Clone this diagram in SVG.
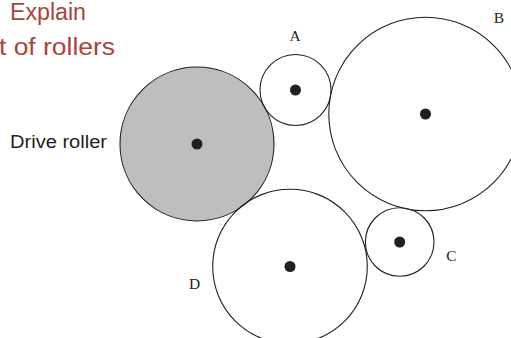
<svg xmlns="http://www.w3.org/2000/svg" width="511" height="338" viewBox="0 0 511 338">
<style>
.roller{fill:none;stroke:#231f20;stroke-width:1.1}
.drive{fill:#bcbec0;stroke:#231f20;stroke-width:1.1}
.axle{fill:#231f20}
.lbl{font-family:"Liberation Serif","Times New Roman",serif;font-size:15.5px;fill:#231f20;text-anchor:middle}
.title{font-family:"Liberation Sans",Arial,sans-serif;font-size:23px;fill:#a8443c}
.side{font-family:"Liberation Sans",Arial,sans-serif;font-size:17.5px;fill:#231f20}
</style>
<rect width="511" height="338" fill="#ffffff"/>
<g id="heading">
<text class="title" x="10" y="20" textLength="76" lengthAdjust="spacingAndGlyphs">Explain</text>
<text class="title" x="-1" y="55" textLength="116" lengthAdjust="spacingAndGlyphs">t of rollers</text>
</g>
<g id="drive-roller">
<circle class="drive" cx="197" cy="144" r="77"/>
<circle class="axle" cx="197" cy="144" r="5.5"/>
<text class="side" x="10" y="147.5" textLength="97" lengthAdjust="spacingAndGlyphs">Drive roller</text>
</g>
<g id="roller-A">
<circle class="roller" cx="295.5" cy="90" r="35.5"/>
<circle class="axle" cx="295.5" cy="90" r="5.5"/>
<text class="lbl" x="295" y="40.5">A</text>
</g>
<g id="roller-B">
<circle class="roller" cx="425.5" cy="114" r="96.7"/>
<circle class="axle" cx="425.5" cy="114" r="5.5"/>
<text class="lbl" x="499" y="22.5">B</text>
</g>
<g id="roller-C">
<circle class="roller" cx="399.7" cy="242" r="34.3"/>
<circle class="axle" cx="399.7" cy="242" r="5.5"/>
<text class="lbl" x="451.5" y="261">C</text>
</g>
<g id="roller-D">
<circle class="roller" cx="290" cy="266.5" r="77.3"/>
<circle class="axle" cx="290" cy="266.5" r="5.5"/>
<text class="lbl" x="194.5" y="289">D</text>
</g>
<g id="connectors"></g>
</svg>
